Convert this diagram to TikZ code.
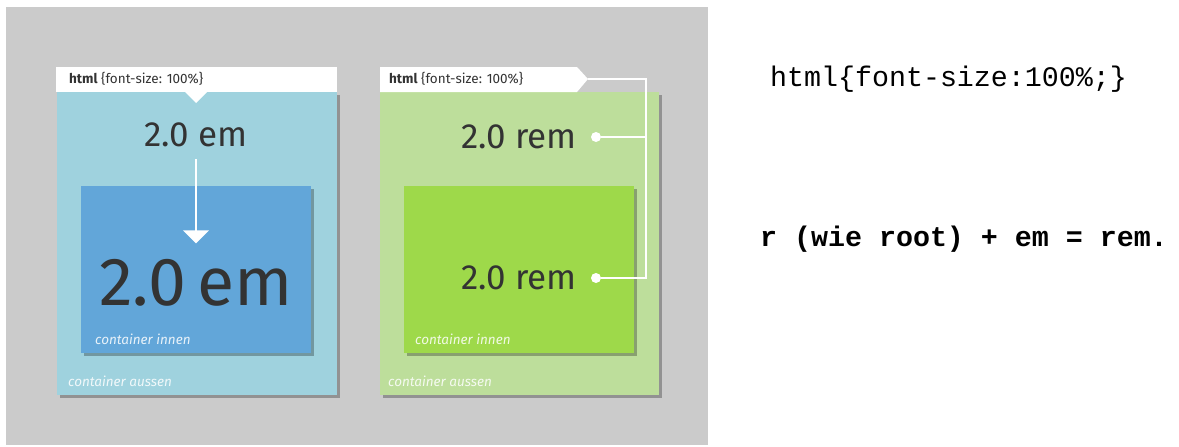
\documentclass[tikz,border=0pt]{standalone}
\usepackage{fontspec}
\setmainfont{Fira Sans}
\newfontfamily\codefont{Liberation Mono}
\usetikzlibrary{arrows.meta, shadows}

\definecolor{panelgray}{HTML}{CBCBCB}
\definecolor{outerblue}{HTML}{9FD2DE}
\definecolor{innerblue}{HTML}{62A6D9}
\definecolor{outergreen}{HTML}{BDDE9B}
\definecolor{innergreen}{HTML}{9ED94A}
\definecolor{inktext}{HTML}{333333}

\tikzset{
    boxshadow/.style={drop shadow={shadow xshift=3pt, shadow yshift=-3pt, opacity=0.28, fill=black}},
    htmllabel/.style={anchor=west, inner sep=0pt, text=inktext, font=\fontsize{13.5}{16}\selectfont},
    unitlabel/.style={inner sep=0pt, text=inktext, font=\fontsize{35}{40}\selectfont},
    boxname/.style={anchor=base west, inner sep=0pt, text=white, text opacity=0.85, font=\itshape\fontsize{13.5}{16}\selectfont},
    codeline/.style={anchor=west, inner sep=0pt, text=black, font=\codefont\fontsize{28.3}{32}\selectfont},
    link/.style={white, line width=1.3pt},
    dot/.style={circle, fill=white, inner sep=0pt, minimum size=10pt}
}

\begin{document}
\begin{tikzpicture}[x=1pt, y=-1pt]
    \useasboundingbox (0,0) rectangle (1179,447);
    % Background panel
    \fill[panelgray] (6,7) rectangle (708,445);

    % Left card: em
    \fill[outerblue, boxshadow] (57,92) rectangle (337,395);
    \fill[white] (56,67) rectangle (337,92);
    \fill[white] (184,91) -- (196,103) -- (208,91) -- cycle;
    \node[htmllabel] (htmlleft) at (69,79) {\textbf{html} \{font-size: 100\%\}};
    \fill[innerblue, boxshadow] (81,186) rectangle (311,353);
    \node[unitlabel] (emtop) at (196,135) {2.0 em};
    \node[unitlabel, font=\fontsize{68}{80}\selectfont] (embig) at (196,283) {2.0\,em};
    \draw[white, line width=1.5pt, -{Triangle[width=26pt, length=13pt]}]
        (emtop.south) ++(0,12) -- ([yshift=16pt]embig.north);
    \node[boxname] (innenleft) at (95,344) {container innen};
    \node[boxname] (aussenleft) at (68,386) {container aussen};

    % Right card: rem
    \fill[outergreen, boxshadow] (380,92) rectangle (659,395);
    \fill[white] (380,67) -- (577,67) -- (588,79) -- (577,92) -- (380,92) -- cycle;
    \coordinate (tip) at (588,79);
    \node[htmllabel] (htmlright) at (389,79) {\textbf{html} \{font-size: 100\%\}};
    \fill[innergreen, boxshadow] (404,186) rectangle (634,353);
    \node[unitlabel] (remtop) at (519,137) {2.0 rem};
    \node[unitlabel] (rembot) at (519,278) {2.0 rem};
    \node[dot] (dottop) at (596,137) {};
    \node[dot] (dotbot) at (596,278) {};
    \coordinate (bend) at (646,79);
    \draw[link] (tip) -- (bend) |- (dotbot);
    \draw[link] (dottop) -- (bend |- dottop);
    \node[boxname] (innenright) at (415,344) {container innen};
    \node[boxname] (aussenright) at (388,386) {container aussen};

    % Notes
    \node[codeline] (rootsize) at (770,79) {html\{font-size:100\%;\}};
    \node[codeline, font=\codefont\bfseries\fontsize{28.3}{32}\selectfont] (remrule) at (760,239) {r (wie root) + em = rem.};
\end{tikzpicture}
\end{document}
